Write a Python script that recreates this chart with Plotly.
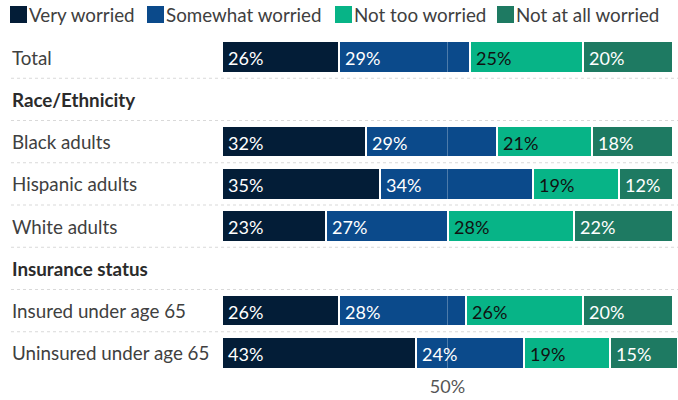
import plotly.graph_objects as go

# Row labels (top to bottom); section headers carry no bars
rows = ["Total", "Race/Ethnicity", "Black adults", "Hispanic adults", "White adults",
        "Insurance status", "Insured under age 65", "Uninsured under age 65"]
headers = ["Race/Ethnicity", "Insurance status"]

series = ["Very worried", "Somewhat worried", "Not too worried", "Not at all worried"]
very_worried = [26, None, 32, 35, 23, None, 26, 43]
somewhat_worried = [29, None, 29, 34, 27, None, 28, 24]
not_too_worried = [25, None, 21, 19, 28, None, 26, 19]
not_at_all_worried = [20, None, 18, 12, 22, None, 20, 15]
values = [very_worried, somewhat_worried, not_too_worried, not_at_all_worried]

colors = ["#031d37", "#0b4a8b", "#07b487", "#1e7a62"]
text_colors = ["white", "white", "#111111", "white"]

W, H = 678, 400
ML, MR, MT, MB = 222, 0, 36, 26
PW, PH = W - ML - MR, H - MT - MB


def px_x(x):
    return (x - ML) / PW


def px_y(y):
    return (H - MB - y) / PH


FONT = "Lato"
fig = go.Figure()
annotations = []

for name, vals, col, tcol in zip(series, values, colors, text_colors):
    fig.add_trace(go.Bar(
        name=name, y=rows, x=vals, orientation="h",
        marker=dict(color=col, line=dict(color="white", width=2)),
        width=0.74, showlegend=False, hoverinfo="x+name",
    ))

# value labels at the left of each segment
for i, r in enumerate(rows):
    base = 0
    for vals, tcol in zip(values, text_colors):
        v = vals[i]
        if v is None:
            continue
        annotations.append(dict(
            x=base, y=r, xref="x", yref="y", text=f"{v}%", showarrow=False,
            xanchor="left", xshift=4, yshift=-1,
            font=dict(family=FONT, size=18, color=tcol),
        ))
        base += v

# row labels on the left
for r in rows:
    bold = r in headers
    annotations.append(dict(
        x=px_x(10), y=r, xref="paper", yref="y",
        text=f"<b>{r}</b>" if bold else r, showarrow=False, xanchor="left",
        font=dict(family=FONT, size=18.8, color="#2b2b2b" if bold else "#404040"),
    ))

shapes = []
# dotted separators between rows
for i in range(len(rows) - 1):
    shapes.append(dict(
        type="line", xref="paper", yref="y", x0=px_x(11), x1=1,
        y0=i + 0.5, y1=i + 0.5, line=dict(color="#d9d9d9", width=1, dash="dot"),
    ))
# 50% reference line drawn over the bars
shapes.append(dict(
    type="line", xref="x", yref="paper", x0=50, x1=50, y0=0, y1=1,
    layer="above", line=dict(color="rgba(255,255,255,0.28)", width=1),
))

# legend: coloured squares followed by series names
leg_left = [10, 147, 335, 497]
for name, col, lx in zip(series, colors, leg_left):
    shapes.append(dict(
        type="rect", xref="paper", yref="paper",
        x0=px_x(lx), x1=px_x(lx + 17), y0=px_y(23), y1=px_y(6),
        fillcolor=col, line=dict(width=0),
    ))
    annotations.append(dict(
        x=px_x(lx + 17), y=px_y(14.5), xref="paper", yref="paper", text=name,
        showarrow=False, xanchor="left", yanchor="middle",
        font=dict(family=FONT, size=18.8, color="#404040"),
    ))

fig.update_layout(
    barmode="stack", width=W, height=H,
    margin=dict(l=ML, r=MR, t=MT, b=MB),
    plot_bgcolor="white", paper_bgcolor="white",
    bargap=0.26,
    xaxis=dict(range=[0, 101.1], tickvals=[50], ticktext=["50%"], showgrid=False,
               zeroline=False, showline=False, ticks="", fixedrange=True,
               tickfont=dict(family=FONT, size=18, color="#555555")),
    yaxis=dict(categoryorder="array", categoryarray=rows, autorange="reversed",
               showticklabels=False, showgrid=False, zeroline=False, fixedrange=True),
    annotations=annotations, shapes=shapes,
)

fig.write_html("out.html")
